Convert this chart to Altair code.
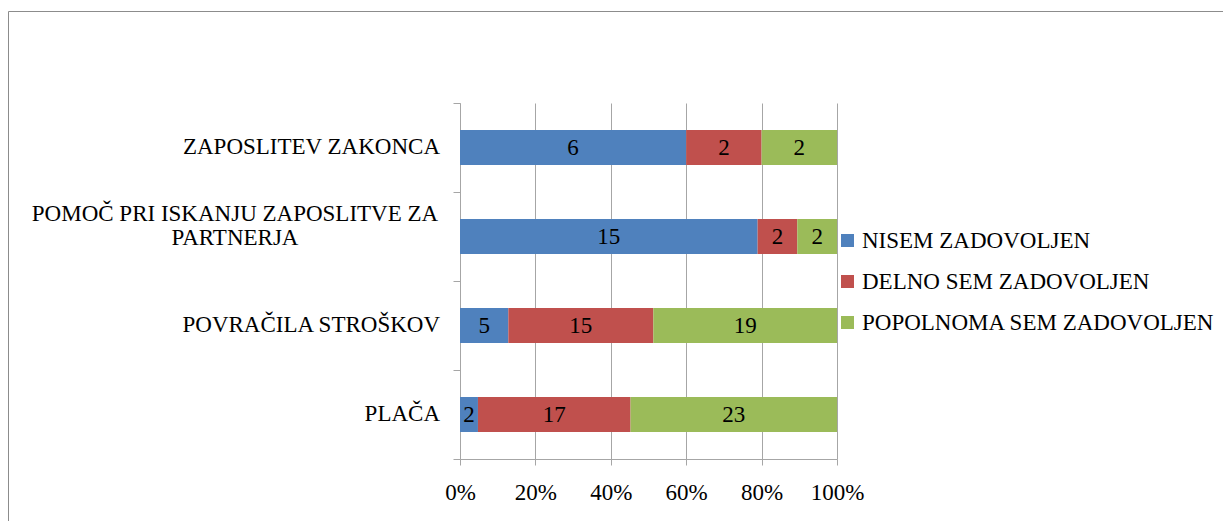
import altair as alt
import pandas as pd

categories = ["ZAPOSLITEV ZAKONCA", "POMOČ PRI ISKANJU ZAPOSLITVE ZA PARTNERJA",
              "POVRAČILA STROŠKOV", "PLAČA"]
category_labels = ["ZAPOSLITEV ZAKONCA", "POMOČ PRI ISKANJU ZAPOSLITVE ZA\nPARTNERJA",
                   "POVRAČILA STROŠKOV", "PLAČA"]
series = ["NISEM ZADOVOLJEN", "DELNO SEM ZADOVOLJEN", "POPOLNOMA SEM ZADOVOLJEN"]
nisem = [6, 15, 5, 2]
delno = [2, 2, 15, 17]
popolnoma = [2, 2, 19, 23]
colors = ["#4F81BD", "#C0504D", "#9BBB59"]
x_ticks = [0, 0.2, 0.4, 0.6, 0.8, 1.0]

rows = []
for i, c in enumerate(categories):
    for j, vals in enumerate([nisem, delno, popolnoma]):
        rows.append({"category": c, "series": series[j], "order": j, "value": vals[i]})
df = pd.DataFrame(rows)

lab_df = pd.DataFrame({"category": categories, "label": category_labels,
                       "multi": ["\n" in l for l in category_labels]})

W, H = 377, 356
FONT = "'Liberation Serif', 'Times New Roman', 'DejaVu Serif', serif"
GRAY = "#a6a6a6"
FS = 23

y_enc = alt.Y("category:N", sort=categories,
              scale=alt.Scale(paddingInner=0, paddingOuter=0),
              axis=alt.Axis(labels=False, title=None, tickBand="extent", tickSize=7,
                            tickColor=GRAY, domainColor=GRAY, grid=False))

base = alt.Chart(df).transform_stack(
    stack="value", groupby=["category"], as_=["v0", "v1"], offset="normalize",
    sort=[alt.SortField("order", order="ascending")]
).transform_calculate(mid="(datum.v0 + datum.v1) / 2")

x_scale = alt.Scale(domain=[0, 1], nice=False)

bars = base.mark_bar(size=35).encode(
    x=alt.X("v0:Q", scale=x_scale,
            axis=alt.Axis(values=x_ticks, format=".0%", grid=True, gridColor=GRAY,
                          tickColor=GRAY, domainColor=GRAY, tickSize=6, title=None,
                          labelFont=FONT, labelFontSize=FS, labelColor="black",
                          labelPadding=16, labelFlush=False)),
    x2="v1:Q",
    y=y_enc,
    color=alt.Color("series:N", scale=alt.Scale(domain=series, range=colors),
                    legend=alt.Legend(title=None, orient="none", legendX=376, legendY=126,
                                      symbolType="square", symbolSize=169,
                                      symbolStrokeWidth=0, labelFont=FONT,
                                      labelFontSize=FS, labelColor="black",
                                      rowPadding=17, padding=0, labelOffset=3,
                                      labelLimit=500)),
    order=alt.Order("order:Q"),
)

texts = base.mark_text(font=FONT, fontSize=FS, color="black", baseline="middle").encode(
    x=alt.X("mid:Q", scale=x_scale),
    y=y_enc,
    text="value:Q",
)

single = alt.Chart(lab_df).transform_filter("!datum.multi").mark_text(
    font=FONT, fontSize=FS, color="black", align="right", baseline="middle", dy=-1
).encode(y=y_enc, x=alt.value(-20), text="label:N")

multi = alt.Chart(lab_df).transform_filter("datum.multi").mark_text(
    font=FONT, fontSize=FS, color="black", align="center", baseline="middle",
    lineBreak="\n", lineHeight=24, dy=-23
).encode(y=y_enc, x=alt.value(-225), text="label:N")

frame = alt.Chart(pd.DataFrame({"f": [0]})).mark_rect(
    filled=False, stroke="#8c8c8c", strokeWidth=1
).encode(x=alt.value(-451.5), x2=alt.value(1000), y=alt.value(-91.5), y2=alt.value(700))

chart = alt.layer(frame, bars, texts, single, multi).properties(
    width=W, height=H,
    autosize=alt.AutoSizeParams(type="none"),
    padding={"left": 452, "top": 95, "right": 386, "bottom": 62},
).configure_view(stroke=None)

chart.save("out.html", embed_options={"renderer": "svg", "actions": False})
